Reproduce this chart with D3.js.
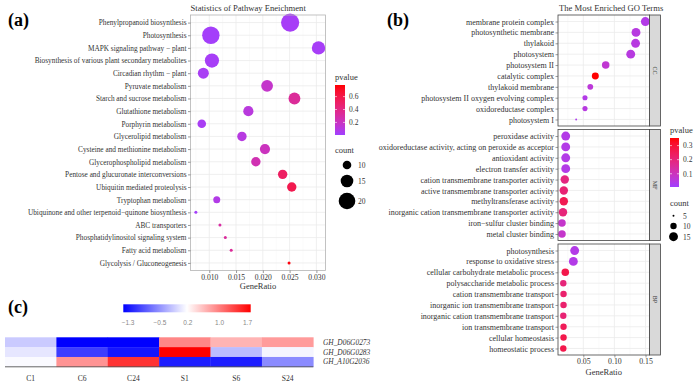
<!DOCTYPE html>
<html lang="en">
<head>
<meta charset="utf-8">
<title>Pathway and GO enrichment</title>
<script src="https://d3js.org/d3.v7.min.js"></script>
<style>
  body { margin: 0; background: #fff; }
  svg text { font-family: "Liberation Serif", "Times New Roman", serif; fill: #333; }
  .grid line { stroke: #ebebeb; stroke-width: 0.8; }
  .grid line.minor { stroke: #f4f4f4; stroke-width: 0.5; }
</style>
</head>
<body>
<script>
// ---- (a) KEGG pathways ----
const pathways = [
  "Phenylpropanoid biosynthesis", "Photosynthesis", "MAPK signaling pathway \u2212 plant",
  "Biosynthesis of various plant secondary metabolites", "Circadian rhythm \u2212 plant",
  "Pyruvate metabolism", "Starch and sucrose metabolism", "Glutathione metabolism",
  "Porphyrin metabolism", "Glycerolipid metabolism", "Cysteine and methionine metabolism",
  "Glycerophospholipid metabolism", "Pentose and glucuronate interconversions",
  "Ubiquitin mediated proteolysis", "Tryptophan metabolism",
  "Ubiquinone and other terpenoid\u2212quinone biosynthesis", "ABC transporters",
  "Phosphatidylinositol signaling system", "Fatty acid metabolism", "Glycolysis / Gluconeogenesis"
];
const pathRatio = [0.0251, 0.0103, 0.0304, 0.0105, 0.0089, 0.0208, 0.0259, 0.0173, 0.0086, 0.0161,
                   0.0204, 0.0187, 0.0237, 0.0254, 0.0114, 0.0075, 0.0120, 0.0130, 0.0141, 0.0249];
const pathCount = [22, 21, 16, 17, 13, 14, 14, 12, 10, 11, 12, 11, 11, 11, 8, 3, 3, 3, 3, 3];
const pathP     = [0.03, 0.02, 0.03, 0.03, 0.04, 0.17, 0.33, 0.11, 0.04, 0.10,
                   0.21, 0.25, 0.52, 0.58, 0.08, 0.02, 0.30, 0.32, 0.33, 0.76];
const ticksA = [0.010, 0.015, 0.020, 0.025, 0.030];
const pTicksA = [0.2, 0.4, 0.6];
const countTicksA = [10, 15, 20];

// ---- (b) GO terms ----
const ccTerms = ["membrane protein complex", "photosynthetic membrane", "thylakoid", "photosystem",
  "photosystem II", "catalytic complex", "thylakoid membrane", "photosystem II oxygen evolving complex",
  "oxidoreductase complex", "photosystem I"];
const ccRatio = [0.1497, 0.1347, 0.1340, 0.1262, 0.0860, 0.0693, 0.0612, 0.0527, 0.0527, 0.0385];
const ccCount = [18, 18, 18, 15, 12, 11, 9, 8, 8, 5];
const ccP     = [0.04, 0.05, 0.05, 0.05, 0.07, 0.354, 0.06, 0.04, 0.05, 0.03];
const mfTerms = ["peroxidase activity", "oxidoreductase activity, acting on peroxide as acceptor",
  "antioxidant activity", "electron transfer activity", "cation transmembrane transporter activity",
  "active transmembrane transporter activity", "methyltransferase activity",
  "inorganic cation transmembrane transporter activity", "iron\u2212sulfur cluster binding", "metal cluster binding"];
const mfRatio = [0.0217, 0.0217, 0.0217, 0.0217, 0.0202, 0.0186, 0.0186, 0.0173, 0.0157, 0.0157];
const mfCount = [17, 17, 17, 17, 14, 14, 14, 14, 12, 12];
const mfP     = [0.04, 0.04, 0.04, 0.04, 0.19, 0.21, 0.26, 0.20, 0.08, 0.08];
const bpTerms = ["photosynthesis", "response to oxidative stress", "cellular carbohydrate metabolic process",
  "polysaccharide metabolic process", "cation transmembrane transport", "inorganic ion transmembrane transport",
  "inorganic cation transmembrane transport", "ion transmembrane transport", "cellular homeostasis", "homeostatic process"];
const bpRatio = [0.0361, 0.0340, 0.0210, 0.0178, 0.0182, 0.0182, 0.0178, 0.0182, 0.0182, 0.0178];
const bpCount = [16, 16, 12, 10, 10, 10, 10, 10, 10, 10];
const bpP     = [0.04, 0.04, 0.27, 0.20, 0.22, 0.22, 0.21, 0.25, 0.27, 0.27];
const ticksB = [0.05, 0.10, 0.15];
const pTicksB = [0.1, 0.2, 0.3];
const countTicksB = [5, 10, 15];

// ---- (c) heatmap ----
const genes = ["GH_D06G0273", "GH_D06G0283", "GH_A10G2036"];
const samples = ["C1", "C6", "C24", "S1", "S6", "S24"];
const expr = [
  [-0.15, -1.42, -1.42, 0.93, 0.65, 0.81],
  [0.02, -1.04, -1.29, 1.78, -0.24, 0.12],
  [0.15, 0.86, 1.46, -1.24, -1.24, -0.55]
];
const heatTicks = [-1.3, -0.5, 0.2, 1.0, 1.7];

const lowCol = "#a040ff", highCol = "#ff0000";
const SERIF = "'Liberation Serif', 'Times New Roman', serif";

const svg = d3.select("body").append("svg")
  .attr("width", 695).attr("height", 384);
const defs = svg.append("defs");

function pScale(domain) {
  return d3.scaleLinear().domain(domain).range([lowCol, highCol]).interpolate(d3.interpolateLab);
}

function styleAxis(a, size) {
  a.attr("font-family", null).attr("font-size", null);
  a.select(".domain").remove();
  a.selectAll("line").attr("stroke", "#555").attr("stroke-width", 0.6);
  a.selectAll("text").attr("fill", "#333")
    .style("font-family", SERIF).style("font-size", size + "px");
}

function colorbar(id, scale, x, y, w, h, ticks, title) {
  const grad = defs.append("linearGradient").attr("id", id)
    .attr("x1", 0).attr("y1", 1).attr("x2", 0).attr("y2", 0);
  const [d0, d1] = scale.domain();
  d3.range(0, 1.0001, 0.1).forEach(t => {
    grad.append("stop").attr("offset", t).attr("stop-color", scale(d0 + t * (d1 - d0)));
  });
  svg.append("text").attr("x", x).attr("y", y - 5).attr("font-size", 8.5).text(title);
  svg.append("rect").attr("x", x).attr("y", y).attr("width", w).attr("height", h)
    .attr("fill", `url(#${id})`);
  const ys = d3.scaleLinear().domain([d0, d1]).range([y + h, y]);
  ticks.forEach(t => {
    svg.append("line").attr("x1", x).attr("x2", x + 2).attr("y1", ys(t)).attr("y2", ys(t))
      .attr("stroke", "#fff").attr("stroke-width", 0.6);
    svg.append("line").attr("x1", x + w - 2).attr("x2", x + w).attr("y1", ys(t)).attr("y2", ys(t))
      .attr("stroke", "#fff").attr("stroke-width", 0.6);
    svg.append("text").attr("x", x + w + 4).attr("y", ys(t) + 2.8).attr("font-size", 7.5).text(t.toFixed(1));
  });
}

function sizeLegend(rScale, x, y, cx, ys, ticks, labelX) {
  svg.append("text").attr("x", x).attr("y", y).attr("font-size", 8.5).text("count");
  ticks.forEach((c, i) => {
    svg.append("circle").attr("cx", cx).attr("cy", ys[i]).attr("r", Math.max(0.9, rScale(c))).attr("fill", "#000");
    svg.append("text").attr("x", labelX).attr("y", ys[i] + 2.8).attr("font-size", 7.5).text(c);
  });
}

// ================= (a) =================
{
  const x0 = 190.5, x1 = 325.5, y0 = 15, y1 = 270.5;
  const x = d3.scaleLinear().domain([0.0065, 0.0317]).range([x0, x1]);
  const y = d3.scalePoint().domain(pathways).range([y0, y1]).padding(0.6);
  const r = d3.scaleLinear().domain([0, 20]).range([0.3, 8.3]);
  const col = pScale([0.005, 0.78]);
  const g = svg.append("g");

  const grid = g.append("g").attr("class", "grid");
  grid.selectAll("line.minor").data(d3.range(0.0075, 0.032, 0.005)).join("line").attr("class", "minor")
    .attr("x1", d => x(d)).attr("x2", d => x(d)).attr("y1", y0).attr("y2", y1);
  grid.selectAll("line.vmaj").data(ticksA).join("line").attr("class", "vmaj")
    .attr("x1", d => x(d)).attr("x2", d => x(d)).attr("y1", y0).attr("y2", y1);
  grid.selectAll("line.hmaj").data(pathways).join("line").attr("class", "hmaj")
    .attr("x1", x0).attr("x2", x1).attr("y1", d => y(d)).attr("y2", d => y(d));

  const data = pathways.map((p, i) => ({ term: p, ratio: pathRatio[i], count: pathCount[i], p: pathP[i] }));
  g.selectAll("circle").data(data).join("circle")
    .attr("cx", d => x(d.ratio)).attr("cy", d => y(d.term)).attr("r", d => r(d.count))
    .attr("fill", d => col(d.p));

  g.append("rect").attr("x", x0).attr("y", y0).attr("width", x1 - x0).attr("height", y1 - y0)
    .attr("fill", "none").attr("stroke", "#b3b3b3").attr("stroke-width", 0.8);

  const ax = g.append("g").attr("transform", `translate(0,${y1})`)
    .call(d3.axisBottom(x).tickValues(ticksA).tickFormat(d3.format(".3f")).tickSize(2.5).tickPadding(2));
  const ay = g.append("g").attr("transform", `translate(${x0},0)`)
    .call(d3.axisLeft(y).tickSize(2.5).tickPadding(1.5));
  styleAxis(ax, 7.6);
  styleAxis(ay, 7.3);

  g.append("text").attr("x", (x0 + x1) / 2).attr("y", 289).attr("text-anchor", "middle")
    .attr("font-size", 8.5).text("GeneRatio");
  g.append("text").attr("x", x0).attr("y", 10.5).attr("font-size", 8.6)
    .text("Statistics of Pathway Eneichment");

  colorbar("gradA", col, 335, 85, 10, 50, pTicksA, "pvalue");
  sizeLegend(r, 335, 153, 347, [165, 181, 201], countTicksA, 358);
}

// ================= (b) =================
{
  const x0 = 558, x1 = 649.5;
  const facets = [
    { name: "CC", terms: ccTerms, ratio: ccRatio, count: ccCount, p: ccP, top: 15, bottom: 126 },
    { name: "MF", terms: mfTerms, ratio: mfRatio, count: mfCount, p: mfP, top: 129.5, bottom: 240.5 },
    { name: "BP", terms: bpTerms, ratio: bpRatio, count: bpCount, p: bpP, top: 244, bottom: 355 }
  ];
  const x = d3.scaleLinear().domain([0.0093, 0.1564]).range([x0, x1]);
  const r = d3.scaleRadial().domain([4.5, 15]).range([0, 4.44]).clamp(true);
  const col = pScale([0.006, 0.354]);
  const g = svg.append("g");

  facets.forEach((f, k) => {
    const y = d3.scalePoint().domain(f.terms).range([f.top, f.bottom]).padding(0.6);
    const grid = g.append("g").attr("class", "grid");
    grid.selectAll("line.minor").data([0.025, 0.075, 0.125]).join("line").attr("class", "minor")
      .attr("x1", d => x(d)).attr("x2", d => x(d)).attr("y1", f.top).attr("y2", f.bottom);
    grid.selectAll("line.vmaj").data(ticksB).join("line").attr("class", "vmaj")
      .attr("x1", d => x(d)).attr("x2", d => x(d)).attr("y1", f.top).attr("y2", f.bottom);
    grid.selectAll("line.hmaj").data(f.terms).join("line").attr("class", "hmaj")
      .attr("x1", x0).attr("x2", x1).attr("y1", d => y(d)).attr("y2", d => y(d));

    const data = f.terms.map((t, i) => ({ term: t, ratio: f.ratio[i], count: f.count[i], p: f.p[i] }));
    g.append("g").selectAll("circle").data(data).join("circle")
      .attr("cx", d => x(d.ratio)).attr("cy", d => y(d.term)).attr("r", d => Math.max(0.9, r(d.count)))
      .attr("fill", d => col(d.p));

    g.append("rect").attr("x", x0).attr("y", f.top).attr("width", x1 - x0).attr("height", f.bottom - f.top)
      .attr("fill", "none").attr("stroke", "#444").attr("stroke-width", 0.8);
    // strip
    g.append("rect").attr("x", x1).attr("y", f.top).attr("width", 11).attr("height", f.bottom - f.top)
      .attr("fill", "#d9d9d9").attr("stroke", "#444").attr("stroke-width", 0.8);
    g.append("text").attr("transform", `translate(${x1 + 3.5},${(f.top + f.bottom) / 2}) rotate(90)`)
      .attr("text-anchor", "middle").attr("font-size", 6).attr("fill", "#1a1a1a").text(f.name);

    const ay = g.append("g").attr("transform", `translate(${x0},0)`)
      .call(d3.axisLeft(y).tickSize(2.5).tickPadding(1.5));
    styleAxis(ay, 8.0);

    if (k === facets.length - 1) {
      const ax = g.append("g").attr("transform", `translate(0,${f.bottom})`)
        .call(d3.axisBottom(x).tickValues(ticksB).tickFormat(d3.format(".2f")).tickSize(2.5).tickPadding(1));
      styleAxis(ax, 7.8);
    }
  });

  g.append("text").attr("x", (x0 + x1) / 2).attr("y", 374.5).attr("text-anchor", "middle")
    .attr("font-size", 8.5).text("GeneRatio");
  g.append("text").attr("x", x0 + 1).attr("y", 10.5).attr("font-size", 8.6).text("The Most Enriched GO Terms");

  colorbar("gradB", col, 670, 138, 9, 49, pTicksB, "pvalue");
  sizeLegend(r, 670, 206, 673.5, [215.7, 226, 236.7], countTicksB, 683);
}

// ================= (c) =================
{
  const x0 = 5, x1 = 313.3, y0 = 337.3, y1 = 366.8;
  const x = d3.scaleBand().domain(samples).range([x0, x1]);
  const y = d3.scaleBand().domain(genes).range([y0, y1]);
  const heat = d3.scaleLinear().domain([-1.42, 0.18, 1.78]).range(["#0000ff", "#ffffff", "#ff0000"]);
  const g = svg.append("g");

  const cells = [];
  genes.forEach((gn, i) => samples.forEach((s, j) => cells.push({ gene: gn, sample: s, v: expr[i][j] })));
  g.selectAll("rect.cell").data(cells).join("rect").attr("class", "cell")
    .attr("x", d => x(d.sample)).attr("y", d => y(d.gene))
    .attr("width", x.bandwidth() + 0.3).attr("height", y.bandwidth() + 0.3)
    .attr("fill", d => heat(d.v));

  g.append("line").attr("x1", x0).attr("x2", x1).attr("y1", y1).attr("y2", y1)
    .attr("stroke", "#555").attr("stroke-width", 0.9);

  g.selectAll("text.col").data(samples).join("text").attr("class", "col")
    .attr("x", d => x(d) + x.bandwidth() / 2).attr("y", 380.5).attr("text-anchor", "middle")
    .attr("font-size", 7.6).text(d => d);
  g.selectAll("text.row").data(genes).join("text").attr("class", "row")
    .attr("x", 323).attr("y", d => y(d) + y.bandwidth() / 2 + 2.6)
    .attr("font-size", 7.4).attr("font-style", "italic").text(d => d);

  // legend
  const lx = d3.scaleLinear().domain([-1.42, 1.78]).range([123.3, 250.7]);
  const grad = defs.append("linearGradient").attr("id", "gradC");
  d3.range(0, 1.0001, 0.05).forEach(t => {
    grad.append("stop").attr("offset", t).attr("stop-color", heat(-1.42 + t * 3.2));
  });
  g.append("rect").attr("x", 123.3).attr("y", 304.3).attr("width", 127.4).attr("height", 8)
    .attr("fill", "url(#gradC)");
  g.selectAll("text.lg").data(heatTicks).join("text").attr("class", "lg")
    .attr("x", d => lx(d)).attr("y", 324.5).attr("text-anchor", "middle")
    .attr("font-size", 6.5)
    .style("fill", "#888")
    .style("font-family", "'Liberation Sans', Arial, sans-serif")
    .text(d => d3.format(".1f")(d).replace("-", "\u2212"));
}

// panel tags
[["(a)", 8, 26], ["(b)", 387, 26], ["(c)", 8, 313]].forEach(([t, x, y]) => {
  svg.append("text").attr("x", x).attr("y", y).attr("font-size", 18).attr("font-weight", "bold")
    .style("fill", "#000").text(t);
});
</script>
</body>
</html>
